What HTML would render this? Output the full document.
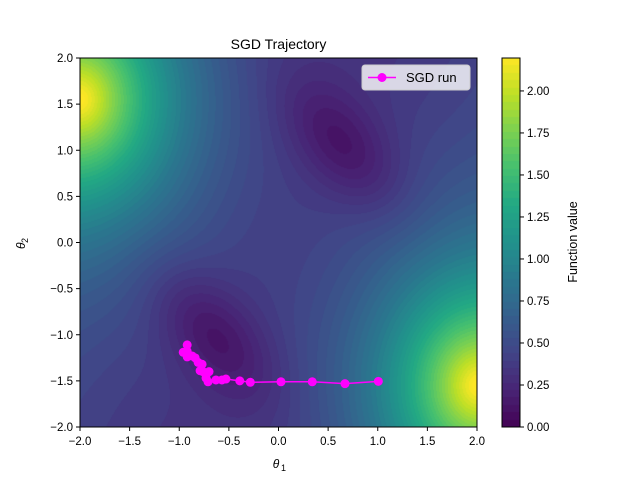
<!DOCTYPE html>
<html><head><meta charset="utf-8"><style>
body{margin:0;background:#fff;}
#wrap{position:relative;width:640px;height:480px;font-family:"Liberation Sans",sans-serif;}
canvas{position:absolute;}
</style></head><body>
<div id="wrap">
<canvas id="field" width="397" height="369" style="left:80px;top:58px"></canvas>
<canvas id="cbar" width="18" height="369" style="left:502px;top:58px"></canvas>
<svg id="svg" width="640" height="480" style="position:absolute;left:0;top:0"></svg>
</div>
<script>
const trajX=[1.006,0.67,0.34,0.025,-0.284,-0.39,-0.53,-0.57,-0.63,-0.71,-0.73,-0.70,-0.76,-0.79,-0.77,-0.81,-0.84,-0.87,-0.92,-0.96,-0.92,-0.92];
const trajY=[-1.505,-1.53,-1.51,-1.51,-1.515,-1.50,-1.48,-1.49,-1.49,-1.51,-1.47,-1.40,-1.40,-1.39,-1.32,-1.30,-1.25,-1.23,-1.24,-1.19,-1.18,-1.11];
const xTicks=[-2.0,-1.5,-1.0,-0.5,0.0,0.5,1.0,1.5,2.0];
const yTicks=[-2.0,-1.5,-1.0,-0.5,0.0,0.5,1.0,1.5,2.0];
const cTicks=[0,0.25,0.5,0.75,1.0,1.25,1.5,1.75,2.0];
const VMAX=2.196;
const L=80,R=477,T=58,B=427;
const sx=v=>L+(v+2)/4*(R-L), sy=v=>B-(v+2)/4*(B-T);
const cy=v=>B-v/VMAX*(B-T);
const stops=[[68,1,84],[72,36,117],[65,68,135],[53,95,141],[42,120,142],[33,145,140],[34,168,132],[68,191,112],[122,209,81],[189,223,38],[253,231,37]];
function vir(t){t=Math.max(0,Math.min(1,t));const p=t*10,i=Math.min(9,Math.floor(p)),f=p-i;return stops[i].map((c,k)=>Math.round(c+(stops[i+1][k]-c)*f));}
function g(x,y,cx,cy,dx,dy,su,sv){const a=x-cx,b=y-cy;const u=a*dx+b*dy,v=-a*dy+b*dx;return Math.exp(-(u*u/su+v*v/sv));}
function pk(x,y,cx,cy){const r=Math.sqrt(((x-cx)/0.95)**2+((y-cy)/1.2)**2);return Math.exp(-Math.pow(r,1.3));}
function f(x,y){
 let v=0.27+0.03*x*x;
 v+=1.85*pk(x,y,-2.0,1.55);
 v+=1.85*pk(x,y,2.0,-1.55);
 v-=0.26*g(x,y,0.65,1.05,0.6,-0.8,0.7,0.18);
 v-=0.26*g(x,y,-0.65,-1.0,0.6,-0.8,0.7,0.18);
 return Math.max(0,Math.min(VMAX,v));
}
const step=VMAX/50;
(function(){const c=document.getElementById('field').getContext('2d');const W=397,H=369;const im=c.createImageData(W,H);
for(let j=0;j<H;j++)for(let i=0;i<W;i++){const x=-2+(i+0.5)/W*4,y=2-(j+0.5)/H*4;let v=f(x,y);v=(Math.floor(v/step)+0.5)*step;const col=vir(v/VMAX);const k=(j*W+i)*4;im.data[k]=col[0];im.data[k+1]=col[1];im.data[k+2]=col[2];im.data[k+3]=255;}
c.putImageData(im,0,0);
const cb=document.getElementById('cbar').getContext('2d');for(let j=0;j<369;j++){const v=(1-(j+0.5)/369)*VMAX;const q=(Math.floor(v/step)+0.5)*step;const col=vir(q/VMAX);cb.fillStyle=`rgb(${col})`;cb.fillRect(0,j,18,1);}})();
const NS='http://www.w3.org/2000/svg',svg=document.getElementById('svg');
function el(t,a,txt){const e=document.createElementNS(NS,t);for(const k in a)e.setAttribute(k,a[k]);if(txt!==undefined)e.textContent=txt;svg.appendChild(e);return e;}
let e;
e=el('rect',{x:L,y:T,width:R-L,height:B-T,fill:'none',stroke:'#000','stroke-width':1});


e=el('rect',{x:502,y:58,width:18,height:369,fill:'none',stroke:'#000','stroke-width':1});


xTicks.forEach(v=>{el('line',{x1:sx(v),x2:sx(v),y1:B,y2:B+4,stroke:'#000'});
 e=el('text',{x:sx(v),y:B+18,'text-anchor':'middle','font-size':11.5,fill:'#000'},v.toFixed(1).replace('-','\u2212'));
 
 });
yTicks.forEach(v=>{el('line',{x1:L-4,x2:L,y1:sy(v),y2:sy(v),stroke:'#000'});
 e=el('text',{x:L-7,y:sy(v)+4,'text-anchor':'end','font-size':11.5,fill:'#000'},v.toFixed(1).replace('-','\u2212'));
 
 });
cTicks.forEach(v=>{el('line',{x1:520,x2:524,y1:cy(v),y2:cy(v),stroke:'#000'});
 e=el('text',{x:527,y:cy(v)+4,'font-size':11.5,fill:'#000'},v.toFixed(2));
 
 });
e=el('text',{x:278.5,y:49,'text-anchor':'middle','font-size':14},'SGD Trajectory');


e=el('text',{x:276,y:468,'text-anchor':'middle','font-size':12,'font-style':'italic'},'θ');


el('text',{x:281,y:471,'font-size':9},'1');
e=el('text',{x:0,y:0,'font-size':12,'font-style':'italic',transform:'translate(25,249) rotate(-90)'},'θ');


el('text',{x:0,y:0,'font-size':9,transform:'translate(28,243) rotate(-90)'},'2');
e=el('text',{x:0,y:0,'font-size':12.5,'text-anchor':'middle',transform:'translate(577,242) rotate(-90)'},'Function value');


e=el('polyline',{points:trajX.map((x,i)=>sx(x)+','+sy(trajY[i])).join(' '),fill:'none',stroke:'#ff00ff','stroke-width':1.5});


trajX.forEach((x,i)=>{e=el('circle',{cx:sx(x),cy:sy(trajY[i]),r:4.5,fill:'#ff00ff'});
 
 });
e=el('rect',{x:362,y:65,width:108,height:25,rx:3,fill:'#fff','fill-opacity':0.8,stroke:'#ccc'});


el('line',{x1:368,x2:396,y1:77.5,y2:77.5,stroke:'#ff00ff','stroke-width':1.5});
el('circle',{cx:382,cy:77.5,r:4.5,fill:'#ff00ff'});
e=el('text',{x:406,y:82,'font-size':13},'SGD run');


</script>
</body></html>
